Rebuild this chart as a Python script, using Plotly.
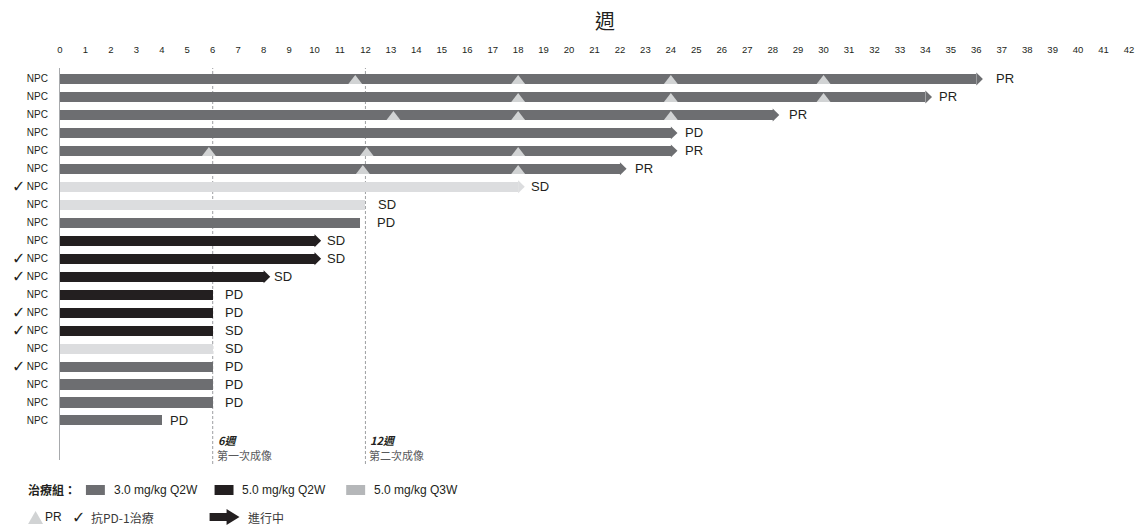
import plotly.graph_objects as go

# ---------------- data ----------------
weeks_ticks = list(range(0, 43))
row_labels = ["NPC"] * 20
end_weeks = [36, 34, 28, 24, 24, 22, 18, 12, 11.8, 10, 10, 8, 6, 6, 6, 6, 6, 6, 6, 4]
groups = ["3.0Q2W", "3.0Q2W", "3.0Q2W", "3.0Q2W", "3.0Q2W", "3.0Q2W", "5.0Q3W", "5.0Q3W",
          "3.0Q2W", "5.0Q2W", "5.0Q2W", "5.0Q2W", "5.0Q2W", "5.0Q2W", "5.0Q2W", "5.0Q3W",
          "3.0Q2W", "3.0Q2W", "3.0Q2W", "3.0Q2W"]
ongoing = [1, 1, 1, 1, 1, 1, 1, 0, 0, 1, 1, 1, 0, 0, 0, 0, 0, 0, 0, 0]
outcomes = ["PR", "PR", "PR", "PD", "PR", "PR", "SD", "SD", "PD", "SD", "SD", "SD",
            "PD", "PD", "SD", "SD", "PD", "PD", "PD", "PD"]
anti_pd1 = [0, 0, 0, 0, 0, 0, 1, 0, 0, 0, 1, 1, 0, 1, 1, 0, 1, 0, 0, 0]
pr_rows = [0, 0, 0, 0, 1, 1, 1, 2, 2, 2, 4, 4, 4, 5, 5]
pr_weeks = [11.6, 18, 24, 30, 18, 24, 30, 13.1, 18, 24, 5.85, 12.05, 18, 11.9, 18]
imaging_weeks = [6, 12]
imaging_titles = ["6週", "12週"]
imaging_notes = ["第一次成像", "第二次成像"]
legend_groups = ["3.0 mg/kg Q2W", "5.0 mg/kg Q2W", "5.0 mg/kg Q3W"]

# ---------------- styles ----------------
bar_colors = {"3.0Q2W": "#6d6e71", "5.0Q2W": "#231f20", "5.0Q3W": "#dcdddf"}
legend_colors = ["#6d6e71", "#231f20", "#b5b7b9"]
tri_color = "#d1d3d4"
label_xshift = [11, 5, 8, 6, 6, 6, 4, 11, 15, 4, 4, 2, 10, 10, 10, 10, 10, 10, 10, 6]
TXT = "#231f20"
CJK = "Noto Sans CJK TC"
ARIAL = "Liberation Sans, Arial"

L, R, T, B = 60, 14, 68, 66
W, H = 1146, 526
PW, PH = W - L - R, H - T - B


def xp(px):
    return (px - L) / PW


def yp(py):
    return (H - B - py) / PH


BAR_W = 0.56
HEAD_LEN = 0.26
HEAD_HALF = 0.36

fig = go.Figure()

rows = list(range(len(end_weeks)))
fig.add_trace(go.Bar(
    x=end_weeks, y=rows, base=0, orientation="h", width=BAR_W,
    marker=dict(color=[bar_colors[g] for g in groups], line=dict(width=0)),
    hoverinfo="skip", showlegend=False,
))

shapes = []
# arrow heads for ongoing treatment
for i, (e, g, on) in enumerate(zip(end_weeks, groups, ongoing)):
    if on:
        shapes.append(dict(
            type="path", xref="x", yref="y",
            path=f"M {e},{i - HEAD_HALF} L {e + HEAD_LEN},{i} L {e},{i + HEAD_HALF} Z",
            fillcolor=bar_colors[g], line=dict(width=0), layer="above",
        ))

# PR triangles
fig.add_trace(go.Scatter(
    x=pr_weeks, y=[r + 0.12 for r in pr_rows], mode="markers",
    marker=dict(symbol="triangle-up", size=12, color=tri_color, line=dict(width=0)),
    hoverinfo="skip", showlegend=False,
))

# dashed imaging lines
for wk in imaging_weeks:
    shapes.append(dict(type="line", xref="x", yref="paper", x0=wk, x1=wk, y0=yp(464), y1=1,
                       line=dict(color="#9d9fa2", width=1, dash="3px,2px"), layer="below"))

annotations = []
# outcome labels
for i, (e, on, o) in enumerate(zip(end_weeks, ongoing, outcomes)):
    annotations.append(dict(
        x=e + (HEAD_LEN if on else 0), y=i, xref="x", yref="y", text=o, showarrow=False,
        xanchor="left", yanchor="middle", xshift=label_xshift[i],
        font=dict(family=ARIAL, size=13, color=TXT),
    ))
# check marks
for i, c in enumerate(anti_pd1):
    if c:
        annotations.append(dict(
            x=xp(18), y=i, xref="paper", yref="y", text="✓", showarrow=False,
            xanchor="center", yanchor="middle", font=dict(family="DejaVu Sans", size=16, color=TXT),
        ))
# title
annotations.append(dict(x=xp(607), y=yp(20), xref="paper", yref="paper", text="週", showarrow=False,
                        xanchor="center", yanchor="middle", font=dict(family=CJK, size=20, color=TXT)))
# imaging notes
for wk, t, n in zip(imaging_weeks, imaging_titles, imaging_notes):
    annotations.append(dict(x=wk, y=yp(440), xref="x", yref="paper", text=f"<b><i>{t}</i></b>",
                            showarrow=False, xanchor="left", yanchor="middle", xshift=3,
                            font=dict(family=CJK, size=11, color=TXT)))
    annotations.append(dict(x=wk, y=yp(455), xref="x", yref="paper", text=n,
                            showarrow=False, xanchor="left", yanchor="middle", xshift=2,
                            font=dict(family=CJK, size=11, color="#58595b")))

# legend row 1
LY1 = 490
annotations.append(dict(x=xp(26), y=yp(LY1), xref="paper", yref="paper", text="<b>治療組：</b>",
                        showarrow=False, xanchor="left", yanchor="middle",
                        font=dict(family=CJK, size=12, color=TXT)))
sq_x = [86, 215, 347]
for sx, col, lab in zip(sq_x, legend_colors, legend_groups):
    shapes.append(dict(type="rect", xref="paper", yref="paper", x0=xp(sx), x1=xp(sx + 19),
                       y0=yp(LY1 - 5), y1=yp(LY1 + 5), fillcolor=col, line=dict(width=0)))
    annotations.append(dict(x=xp(sx + 26), y=yp(LY1), xref="paper", yref="paper", text=lab,
                            showarrow=False, xanchor="left", yanchor="middle",
                            font=dict(family=ARIAL, size=12, color=TXT)))
# legend row 2
LY2 = 517
shapes.append(dict(type="path", xref="paper", yref="paper",
                   path=f"M {xp(28)},{yp(LY2 + 7)} L {xp(35.5)},{yp(LY2 - 6)} L {xp(43)},{yp(LY2 + 7)} Z",
                   fillcolor=tri_color, line=dict(width=0)))
annotations.append(dict(x=xp(43), y=yp(LY2), xref="paper", yref="paper", text="PR", showarrow=False,
                        xanchor="left", yanchor="middle", font=dict(family=ARIAL, size=12, color=TXT)))
annotations.append(dict(x=xp(79), y=yp(LY2), xref="paper", yref="paper", text="✓", showarrow=False,
                        xanchor="center", yanchor="middle", font=dict(family="DejaVu Sans", size=16, color=TXT)))
annotations.append(dict(x=xp(89), y=yp(LY2), xref="paper", yref="paper", text="抗PD-1治療", showarrow=False,
                        xanchor="left", yanchor="middle", font=dict(family=CJK, size=12, color="#3a3a3a")))
shapes.append(dict(type="rect", xref="paper", yref="paper", x0=xp(210), x1=xp(228),
                   y0=yp(LY2 + 4), y1=yp(LY2 - 4), fillcolor=TXT, line=dict(width=0)))
shapes.append(dict(type="path", xref="paper", yref="paper",
                   path=f"M {xp(227)},{yp(LY2 - 8)} L {xp(240)},{yp(LY2)} L {xp(227)},{yp(LY2 + 8)} Z",
                   fillcolor=TXT, line=dict(width=0)))
annotations.append(dict(x=xp(247), y=yp(LY2), xref="paper", yref="paper", text="進行中", showarrow=False,
                        xanchor="left", yanchor="middle", font=dict(family=CJK, size=12, color="#3a3a3a")))

fig.update_layout(
    width=W, height=H, margin=dict(l=L, r=R, t=T, b=B),
    paper_bgcolor="white", plot_bgcolor="white",
    shapes=shapes, annotations=annotations, bargap=0,
    xaxis=dict(range=[0, 42], side="top", tickmode="array", tickvals=weeks_ticks,
               ticktext=[str(w) for w in weeks_ticks], showgrid=False, zeroline=False,
               showline=False, ticks="", ticklabelstandoff=12,
               tickfont=dict(family=ARIAL, size=9.5, color=TXT), fixedrange=True),
    yaxis=dict(range=[21.2, -0.61], tickmode="array", tickvals=rows, ticktext=row_labels,
               showgrid=False, zeroline=False, showline=True, linecolor="#a7a9ac", linewidth=1.2,
               ticks="", ticklabelstandoff=9,
               tickfont=dict(family=ARIAL, size=10, color=TXT), fixedrange=True),
    font=dict(family=ARIAL),
)

fig.write_html("out.html")
